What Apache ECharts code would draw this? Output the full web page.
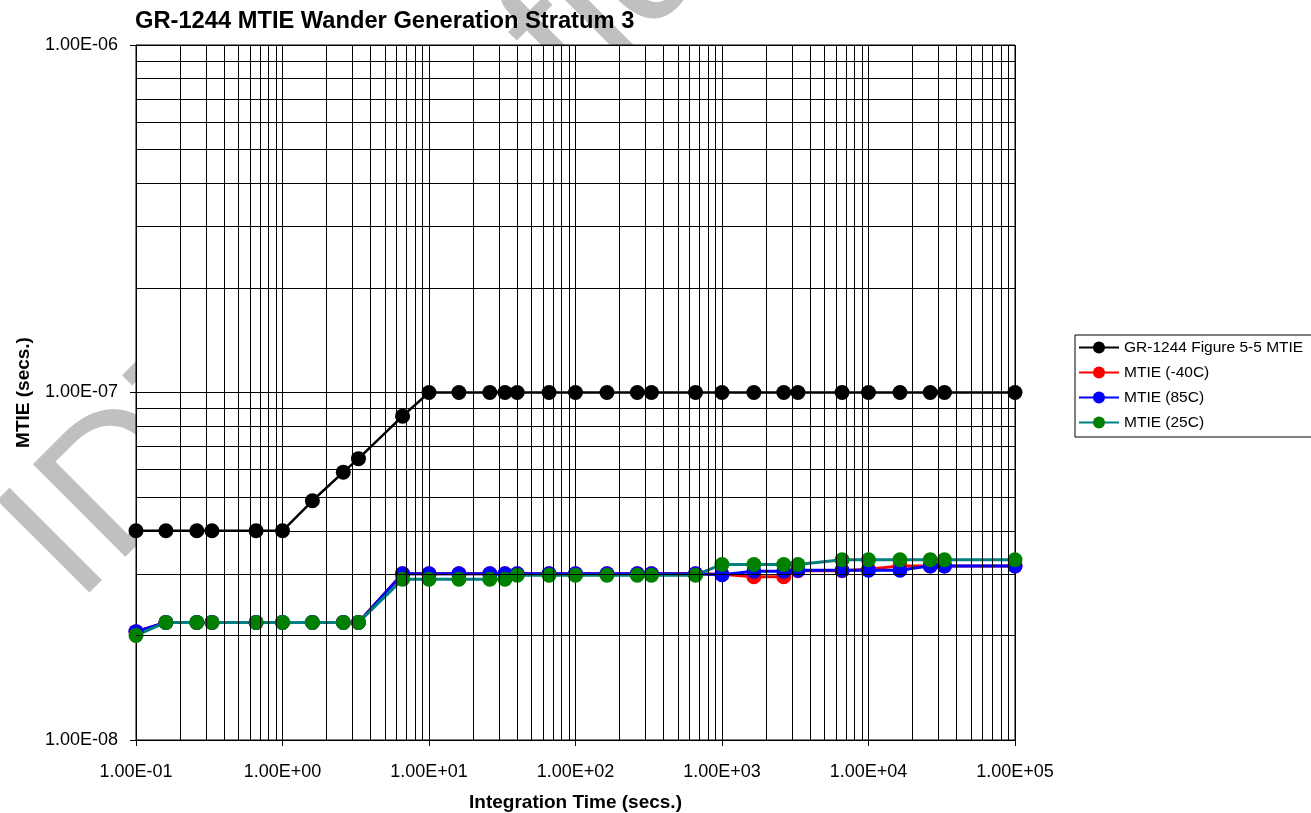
<!DOCTYPE html>
<html><head><meta charset="utf-8">
<script src="https://cdn.jsdelivr.net/npm/echarts@6.0.0/dist/echarts.min.js"></script>
<style>html,body{margin:0;padding:0;background:#fff}#c{width:1311px;height:813px}</style>
</head><body><div id="c"></div>
<script>
// ---- data ----
const chartTitle = 'GR-1244 MTIE Wander Generation Stratum 3';
const xAxisName = 'Integration Time (secs.)';
const yAxisName = 'MTIE (secs.)';
const watermarkText = 'IDT Confidential';
const seriesNames = ['GR-1244 Figure 5-5 MTIE', 'MTIE (-40C)', 'MTIE (85C)', 'MTIE (25C)'];
const tau = [0.1, 0.16, 0.26, 0.33, 0.66, 1, 1.6, 2.6, 3.3, 6.6, 10, 16, 26, 33, 40, 66, 100, 164, 264, 330, 660, 1000, 1650, 2640, 3300, 6600, 10000, 16400, 26400, 33000, 100000];
const mtieMask = [4e-8, 4e-8, 4e-8, 4e-8, 4e-8, 4e-8, 4.88e-8, 5.9e-8, 6.45e-8, 8.55e-8, 1e-7, 1e-7, 1e-7, 1e-7, 1e-7, 1e-7, 1e-7, 1e-7, 1e-7, 1e-7, 1e-7, 1e-7, 1e-7, 1e-7, 1e-7, 1e-7, 1e-7, 1e-7, 1e-7, 1e-7, 1e-7];
const mtieM40 = [2.05e-8, 2.18e-8, 2.18e-8, 2.18e-8, 2.18e-8, 2.18e-8, 2.18e-8, 2.18e-8, 2.18e-8, 3.01e-8, 3.01e-8, 3.01e-8, 3.01e-8, 3.01e-8, 3.01e-8, 3.01e-8, 3.01e-8, 3.01e-8, 3.01e-8, 3.01e-8, 3.01e-8, 3.0e-8, 2.95e-8, 2.95e-8, 3.07e-8, 3.07e-8, 3.1e-8, 3.17e-8, 3.17e-8, 3.17e-8, 3.17e-8];
const mtie85 = [2.05e-8, 2.18e-8, 2.18e-8, 2.18e-8, 2.18e-8, 2.18e-8, 2.18e-8, 2.18e-8, 2.18e-8, 3.01e-8, 3.01e-8, 3.01e-8, 3.01e-8, 3.01e-8, 3.01e-8, 3.01e-8, 3.01e-8, 3.01e-8, 3.01e-8, 3.01e-8, 3.01e-8, 2.99e-8, 3.06e-8, 3.06e-8, 3.08e-8, 3.08e-8, 3.08e-8, 3.08e-8, 3.17e-8, 3.17e-8, 3.17e-8];
const mtie25 = [2.0e-8, 2.18e-8, 2.18e-8, 2.18e-8, 2.18e-8, 2.18e-8, 2.18e-8, 2.18e-8, 2.18e-8, 2.9e-8, 2.9e-8, 2.9e-8, 2.9e-8, 2.9e-8, 2.98e-8, 2.98e-8, 2.98e-8, 2.98e-8, 2.98e-8, 2.98e-8, 2.98e-8, 3.2e-8, 3.2e-8, 3.2e-8, 3.2e-8, 3.3e-8, 3.3e-8, 3.3e-8, 3.3e-8, 3.3e-8, 3.3e-8];
const xRange = [0.1, 100000];
const yRange = [1e-8, 1e-6];
const xDecades = [0.1, 1, 10, 100, 1000, 10000];
const yDecades = [1e-8, 1e-7];
const minorSteps = [2, 3, 4, 5, 6, 7, 8, 9];

// ---- helpers ----
const FONT = '"Liberation Sans", Arial, sans-serif';
function sci(v) {
  const e = Math.round(Math.log10(v));
  const a = Math.abs(e);
  return '1.00E' + (e < 0 ? '-' : '+') + (a < 10 ? '0' : '') + a;
}
const xMinor = [], yMinor = [];
xDecades.forEach(d => minorSteps.forEach(k => xMinor.push(d * k)));
yDecades.forEach(d => minorSteps.forEach(k => yMinor.push(d * k)));
const gridLines = xMinor.map(v => [{ coord: [v, yRange[0]] }, { coord: [v, yRange[1]] }])
  .concat(yMinor.map(v => [{ coord: [xRange[0], v] }, { coord: [xRange[1], v] }]));

function lineSeries(name, vals, lineColor, markerColor, lw) {
  return {
    name: name, type: 'line', data: tau.map((t, i) => [t, vals[i]]),
    symbol: 'circle', symbolSize: 15, z: 3,
    lineStyle: { color: lineColor, width: lw },
    itemStyle: { color: markerColor },
    emphasis: { disabled: true }, animation: false
  };
}

const chart = echarts.init(document.getElementById('c'), null, { renderer: 'canvas' });
chart.setOption({
  animation: false,
  backgroundColor: '#fff',
  textStyle: { fontFamily: FONT },
  title: {
    text: chartTitle, left: 130, top: 4,
    textStyle: { fontSize: 23.7, fontWeight: 'bold', color: '#000', fontFamily: FONT }
  },
  graphic: [{
    type: 'text', x: 40, y: 568, rotation: Math.PI / 4, z: -10, silent: true,
    style: { text: watermarkText, font: '190px ' + FONT, fill: '#c0c0c0', align: 'left', verticalAlign: 'middle' }
  }],
  legend: {
    orient: 'vertical', left: 1075, top: 335,
    data: seriesNames, selectedMode: false,
    itemWidth: 40, itemHeight: 15, itemGap: 8,
    padding: [4, 90, 6, 3],
    borderColor: '#000', borderWidth: 1, backgroundColor: '#fff',
    textStyle: { fontSize: 15.5, color: '#000', fontFamily: FONT, lineHeight: 17 }
  },
  grid: {
    left: 136, top: 45, width: 879, height: 695,
    outerBoundsMode: 'none', containLabel: false,
    show: true, backgroundColor: '#fff', borderColor: '#000', borderWidth: 1
  },
  xAxis: {
    type: 'log', logBase: 10, min: xRange[0], max: xRange[1],
    name: xAxisName, nameLocation: 'middle', nameGap: 53,
    nameTextStyle: { fontWeight: 'bold', fontSize: 19, color: '#000', fontFamily: FONT },
    axisLine: { lineStyle: { color: '#000', width: 1 } },
    axisTick: { show: true, length: 6, lineStyle: { color: '#000' } },
    axisLabel: { formatter: sci, fontSize: 18, color: '#000', margin: 23, fontFamily: FONT },
    splitLine: { show: true, lineStyle: { color: '#000', width: 1 } },
    minorTick: { show: false }, minorSplitLine: { show: false }
  },
  yAxis: {
    type: 'log', logBase: 10, min: yRange[0], max: yRange[1],
    name: yAxisName, nameLocation: 'middle', nameGap: 103,
    nameTextStyle: { fontWeight: 'bold', fontSize: 19, color: '#000', fontFamily: FONT },
    axisLine: { show: true, lineStyle: { color: '#000', width: 1 } },
    axisTick: { show: true, length: 6, lineStyle: { color: '#000' } },
    axisLabel: { formatter: sci, fontSize: 18, color: '#000', margin: 18, fontFamily: FONT },
    splitLine: { show: true, lineStyle: { color: '#000', width: 1 } },
    minorTick: { show: false }, minorSplitLine: { show: false }
  },
  series: [
    {
      name: 'minor-grid', type: 'line', data: tau.map((t, i) => [t, mtieMask[i]]),
      symbol: 'none', lineStyle: { opacity: 0 }, silent: true, z: 1, animation: false,
      markLine: {
        silent: true, animation: false, symbol: ['none', 'none'],
        label: { show: false }, emphasis: { disabled: true },
        lineStyle: { color: '#000', width: 1, type: 'solid' },
        data: gridLines
      }
    },
    lineSeries(seriesNames[0], mtieMask, '#000000', '#000000', 2.5),
    lineSeries(seriesNames[1], mtieM40, '#ff0000', '#ff0000', 3),
    lineSeries(seriesNames[2], mtie85, '#0000ff', '#0000ff', 3),
    lineSeries(seriesNames[3], mtie25, '#008080', '#008000', 3)
  ]
});
</script>
</body></html>
